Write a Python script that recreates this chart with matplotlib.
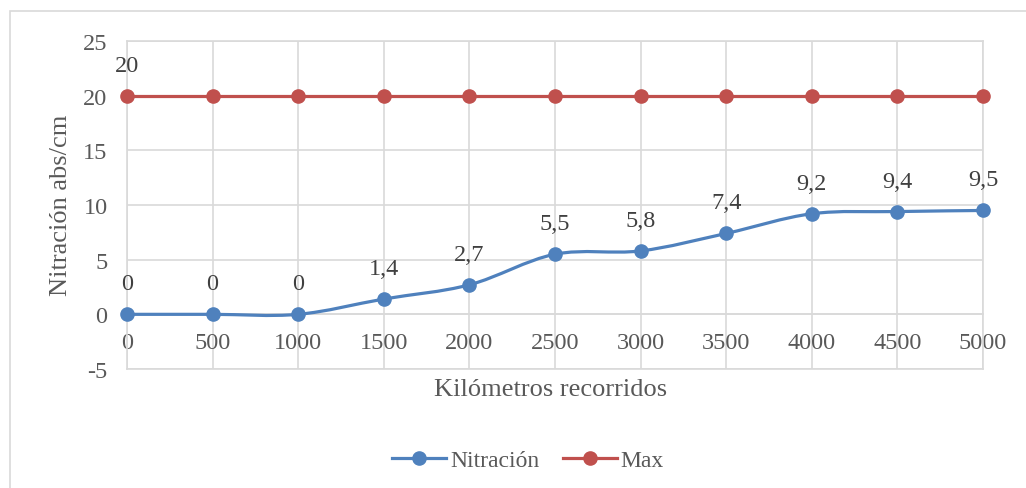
import numpy as np
import matplotlib
matplotlib.use('Agg')
import matplotlib.pyplot as plt
from matplotlib.path import Path
from matplotlib.patches import PathPatch, Rectangle
from matplotlib.lines import Line2D

plt.rcParams['font.family'] = ['Liberation Serif', 'DejaVu Serif']
plt.rcParams['axes.unicode_minus'] = False

km = [0, 500, 1000, 1500, 2000, 2500, 3000, 3500, 4000, 4500, 5000]
nitracion = [0, 0, 0, 1.4, 2.7, 5.5, 5.8, 7.4, 9.2, 9.4, 9.5]
maximo = [20] * 11
y_ticks = [-5, 0, 5, 10, 15, 20, 25]

azul = '#4F81BD'
rojo = '#C0504D'
gris = '#D9D9D9'
texto = '#595959'
fs = 17.5       # ticks y etiquetas de datos
fs_tit = 19     # titulos de ejes


def curva_suave(xs, ys):
    # curva tipo Excel (Catmull-Rom -> Bezier)
    pts = np.column_stack([xs, ys]).astype(float)
    n = len(pts)
    verts = [pts[0]]
    codes = [Path.MOVETO]
    for i in range(n - 1):
        p0 = pts[i - 1] if i > 0 else pts[i]
        p1 = pts[i]
        p2 = pts[i + 1]
        p3 = pts[i + 2] if i + 2 < n else pts[i + 1]
        verts += [p1 + (p2 - p0) / 6, p2 - (p3 - p1) / 6, p2]
        codes += [Path.CURVE4] * 3
    return Path(verts, codes)


fig = plt.figure(figsize=(10.26, 4.89), dpi=100)
ax = fig.add_axes([127 / 1026, 1 - 370 / 489, (983 - 127) / 1026, (370 - 42) / 489])

ax.set_xlim(km[0], km[-1])
ax.set_ylim(-5, 25)
ax.set_xticks(km)
ax.set_xticklabels([str(k) for k in km])
ax.set_yticks(y_ticks)
ax.set_yticklabels([str(v) for v in y_ticks])
ax.grid(True, color=gris, linewidth=1.2, zorder=0)
ax.axhline(-5, color=gris, linewidth=1.2, zorder=1, clip_on=False)
for s in ax.spines.values():
    s.set_color(gris)
    s.set_linewidth(1.2)
ax.spines['bottom'].set_position(('data', 0))
ax.tick_params(length=0, labelsize=fs, labelcolor=texto)
ax.tick_params(axis='x', pad=13)
ax.tick_params(axis='y', pad=14)

ax.add_patch(PathPatch(curva_suave(km, nitracion), facecolor='none', edgecolor=azul,
                       linewidth=2.3, zorder=3, capstyle='round'))
ax.plot(km, nitracion, 'o', color=azul, markersize=9.5, zorder=4, clip_on=False)
ax.plot(km, maximo, '-', color=rojo, linewidth=2.3, zorder=3)
ax.plot(km, maximo, 'o', color=rojo, markersize=9.5, zorder=4, clip_on=False)

for x, y in zip(km, nitracion):
    ax.annotate(('%g' % y).replace('.', ','), (x, y), xytext=(0, 22), textcoords='offset points',
                ha='center', va='center', fontsize=fs, color='#404040', zorder=5)
ax.annotate('20', (km[0], maximo[0]), xytext=(0, 22), textcoords='offset points',
            ha='center', va='center', fontsize=fs, color='#404040', zorder=5)

fig.text(61 / 1026, 1 - 205 / 489, 'Nitración abs/cm', rotation=90, ha='center', va='center',
         fontsize=fs_tit, color=texto)
fig.text(551 / 1026, 1 - 390 / 489, 'Kilómetros recorridos', ha='center', va='center',
         fontsize=fs_tit, color=texto)

handles = [Line2D([], [], color=azul, linewidth=2.3, marker='o', markersize=9.5),
           Line2D([], [], color=rojo, linewidth=2.3, marker='o', markersize=9.5)]
leg = fig.legend(handles, ['Nitración', 'Max'], loc='center', bbox_to_anchor=(528 / 1026, 1 - 461 / 489),
                 ncol=2, frameon=False, fontsize=17, handlelength=2.3, handletextpad=0.15,
                 columnspacing=1.0)
for t in leg.get_texts():
    t.set_color(texto)

fig.patches.append(Rectangle((10 / 1026, -0.1), 1.2, 1 - 12 / 489 + 0.1, transform=fig.transFigure,
                             fill=False, edgecolor=gris, linewidth=1.2))

fig.savefig('out.png', dpi=100)
